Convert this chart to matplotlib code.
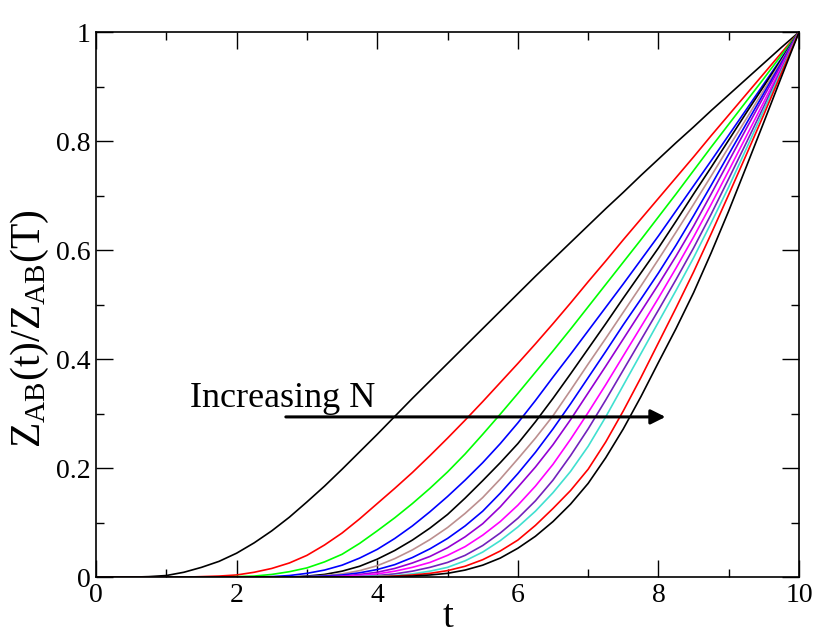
import numpy as np
import matplotlib
matplotlib.use('Agg')
import matplotlib.pyplot as plt

plt.rcParams['font.family'] = ['Liberation Serif', 'DejaVu Serif']
plt.rcParams['mathtext.fontset'] = 'stix'

# Time grid (values read every 0.25):
t = np.arange(0, 10.001, 0.25)

# Z_AB(t)/Z_AB(T), one list per N (smallest N first):
z1 = [0, 0, 0, 0.001, 0.003, 0.009, 0.018, 0.029, 0.044, 0.063, 0.085,
      0.110, 0.138, 0.167, 0.198, 0.230, 0.262, 0.295, 0.328, 0.360, 0.392,
      0.424, 0.456, 0.488, 0.520, 0.552, 0.583, 0.614, 0.645, 0.676, 0.706,
      0.737, 0.767, 0.797, 0.826, 0.856, 0.885, 0.914, 0.943, 0.972, 1]
z2 = [0] * 6 + [0.001, 0.002, 0.004, 0.009, 0.016, 0.026, 0.040, 0.059,
      0.081, 0.107, 0.135, 0.163, 0.192, 0.223, 0.255, 0.288, 0.322, 0.357,
      0.392, 0.428, 0.465, 0.503, 0.542, 0.580, 0.619, 0.657, 0.695, 0.733,
      0.771, 0.810, 0.848, 0.886, 0.924, 0.962, 1]
z3 = [0] * 8 + [0.001, 0.002, 0.005, 0.010, 0.017, 0.028, 0.042, 0.062,
      0.085, 0.109, 0.135, 0.163, 0.193, 0.226, 0.262, 0.299, 0.337, 0.376,
      0.415, 0.455, 0.496, 0.537, 0.578, 0.619, 0.661, 0.703, 0.746, 0.789,
      0.831, 0.873, 0.915, 0.958, 1]
z4 = [0] * 10 + [0.001, 0.003, 0.007, 0.013, 0.022, 0.035, 0.051, 0.071,
      0.094, 0.120, 0.148, 0.178, 0.210, 0.245, 0.283, 0.324, 0.367, 0.409,
      0.452, 0.495, 0.538, 0.582, 0.626, 0.672, 0.718, 0.764, 0.811, 0.858,
      0.905, 0.952, 1]
z5 = [0] * 12 + [0.002, 0.005, 0.011, 0.020, 0.033, 0.049, 0.068, 0.090,
      0.115, 0.145, 0.177, 0.210, 0.245, 0.285, 0.328, 0.373, 0.419, 0.465,
      0.512, 0.558, 0.604, 0.653, 0.703, 0.752, 0.802, 0.852, 0.901, 0.950,
      1]
z6 = [0] * 12 + [0.001, 0.003, 0.006, 0.012, 0.021, 0.034, 0.050, 0.069,
      0.091, 0.117, 0.146, 0.180, 0.217, 0.255, 0.296, 0.343, 0.391, 0.438,
      0.486, 0.534, 0.583, 0.633, 0.684, 0.736, 0.789, 0.841, 0.894, 0.947,
      1]
z7 = [0] * 12 + [0.001, 0.002, 0.004, 0.008, 0.014, 0.023, 0.036, 0.052,
      0.071, 0.094, 0.121, 0.154, 0.190, 0.229, 0.272, 0.318, 0.366, 0.414,
      0.463, 0.510, 0.558, 0.609, 0.663, 0.719, 0.776, 0.832, 0.888, 0.944,
      1]
z8 = [0] * 13 + [0.001, 0.002, 0.005, 0.009, 0.016, 0.026, 0.038, 0.054,
      0.074, 0.098, 0.129, 0.165, 0.202, 0.243, 0.289, 0.338, 0.387, 0.437,
      0.487, 0.537, 0.589, 0.644, 0.703, 0.763, 0.823, 0.882, 0.941, 1]
z9 = [0] * 14 + [0.001, 0.003, 0.006, 0.011, 0.018, 0.027, 0.040, 0.056,
      0.077, 0.102, 0.132, 0.167, 0.207, 0.253, 0.302, 0.353, 0.406, 0.459,
      0.512, 0.567, 0.624, 0.684, 0.746, 0.809, 0.872, 0.936, 1]
z10 = [0] * 15 + [0.001, 0.003, 0.006, 0.011, 0.018, 0.027, 0.040, 0.058,
       0.081, 0.108, 0.140, 0.178, 0.223, 0.272, 0.325, 0.380, 0.435, 0.490,
       0.546, 0.604, 0.666, 0.731, 0.797, 0.864, 0.932, 1]
z11 = [0] * 15 + [0.001, 0.002, 0.003, 0.006, 0.011, 0.018, 0.030, 0.046,
       0.067, 0.092, 0.121, 0.155, 0.194, 0.240, 0.294, 0.352, 0.410, 0.468,
       0.526, 0.586, 0.650, 0.716, 0.786, 0.857, 0.929, 1]
z12 = [0] * 16 + [0.001, 0.002, 0.004, 0.007, 0.012, 0.020, 0.032, 0.048,
       0.068, 0.095, 0.126, 0.159, 0.198, 0.248, 0.305, 0.366, 0.430, 0.494,
       0.560, 0.630, 0.702, 0.775, 0.849, 0.925, 1]
z13 = [0] * 17 + [0.001, 0.002, 0.004, 0.007, 0.013, 0.022, 0.035, 0.053,
       0.075, 0.102, 0.134, 0.172, 0.219, 0.272, 0.331, 0.394, 0.456, 0.522,
       0.595, 0.672, 0.753, 0.835, 0.918, 1]

curves = [z1, z2, z3, z4, z5, z6, z7, z8, z9, z10, z11, z12, z13]
colors = ['black', '#FF0000', '#00FF00', '#0000FF', 'black', '#BC8F8F',
          '#0000FF', '#9400D3', '#FF00FF', '#7221BC', '#40E0D0', '#FF0000',
          'black']

fig = plt.figure(figsize=(8.3, 6.42), dpi=100)
ax = fig.add_axes([0.1157, 0.101, 0.847, 0.849])

for z, c in zip(curves, colors):
    ax.plot(t, z, color=c, linewidth=1.2)

# Arrow and label:
ax.annotate('', xy=(8.1, 0.294), xytext=(2.7, 0.294),
            arrowprops=dict(arrowstyle='-|>', color='black', lw=2.2,
                            mutation_scale=22, shrinkA=0, shrinkB=0))
ax.text(1.33, 0.312, 'Increasing N', fontsize=26, va='baseline', ha='left')

ax.set_xlim(0, 10)
ax.set_ylim(0, 1)
ax.set_xticks(np.arange(0, 10.1, 2))
ax.set_xticks(np.arange(0, 10.1, 1), minor=True)
ax.set_yticks(np.arange(0, 1.01, 0.2))
ax.set_yticks(np.arange(0, 1.01, 0.1), minor=True)
ax.set_xticklabels(['0', '2', '4', '6', '8', '10'])
ax.set_yticklabels(['0', '0.2', '0.4', '0.6', '0.8', '1'])
ax.tick_params(which='both', direction='in', top=True, right=True,
               labelsize=20, width=1.0)
ax.tick_params(which='major', length=12, pad=4)
ax.tick_params(which='minor', length=6)
for s in ax.spines.values():
    s.set_linewidth(1.2)

ax.set_xlabel('t', fontsize=28, labelpad=-6)
ax.set_ylabel(r'Z$\mathregular{_{AB}}$(t)/Z$\mathregular{_{AB}}$(T)',
              fontsize=30)
ax.yaxis.set_label_coords(-0.064, 0.455)

fig.savefig('out.png', dpi=100)
